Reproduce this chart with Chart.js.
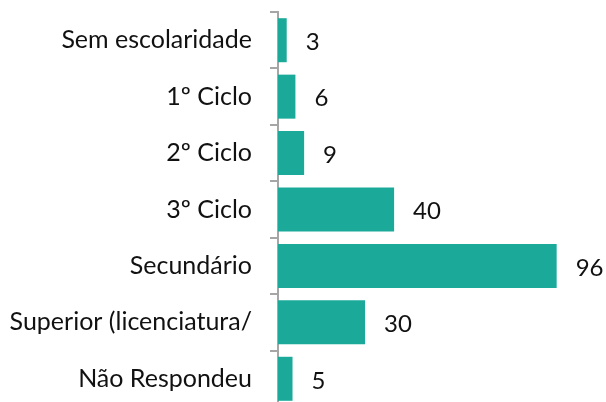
<!DOCTYPE html>
<html>
<head>
<meta charset="utf-8">
<script src="https://cdn.jsdelivr.net/npm/chart.js@4"></script>
<style>
html,body{margin:0;padding:0;background:#fff;overflow:hidden;}
#wrap{width:606px;height:420px;position:relative;}
</style>
</head>
<body>
<div id="wrap"><canvas id="c"></canvas></div>
<script>
const categories = ["Sem escolaridade","1º Ciclo","2º Ciclo","3º Ciclo","Secundário","Superior (licenciatura/","Não Respondeu"];
const values = [3,6,9,40,96,30,5];

const FONT = "Lato, 'Open Sans', sans-serif";

const valueLabels = {
  id:'valueLabels',
  afterDatasetsDraw(chart){
    const ctx = chart.ctx;
    const meta = chart.getDatasetMeta(0);
    ctx.save();
    ctx.font = "24px " + FONT;
    ctx.fillStyle = "#111111";
    ctx.textAlign = "left";
    ctx.textBaseline = "middle";
    meta.data.forEach((bar,i)=>{
      ctx.fillText(String(values[i]), bar.x + 19, bar.y + 2);
    });
    ctx.restore();
  }
};

new Chart(document.getElementById('c'), {
  type:'bar',
  data:{
    labels:categories,
    datasets:[{
      data:values,
      backgroundColor:'#1BAA9A',
      borderWidth:0,
      categoryPercentage:0.78,
      barPercentage:1.0
    }]
  },
  options:{
    indexAxis:'y',
    responsive:true,
    maintainAspectRatio:false,
    animation:false,
    layout:{padding:{top:12,bottom:13,left:0,right:0}},
    plugins:{legend:{display:false},tooltip:{enabled:false}},
    scales:{
      x:{display:false,min:0,max:113},
      y:{
        afterFit(scale){ scale.width = 278; scale.paddingTop = 0; scale.paddingBottom = 0; },
        border:{display:true,color:'#A6A6A6',width:2},
        grid:{display:true,offset:true,drawOnChartArea:false,drawTicks:true,tickLength:8,color:'#A6A6A6',lineWidth:2},
        ticks:{color:'#111111',font:{family:FONT,size:25},padding:18}
      }
    }
  },
  plugins:[valueLabels]
});
</script>
</body>
</html>
